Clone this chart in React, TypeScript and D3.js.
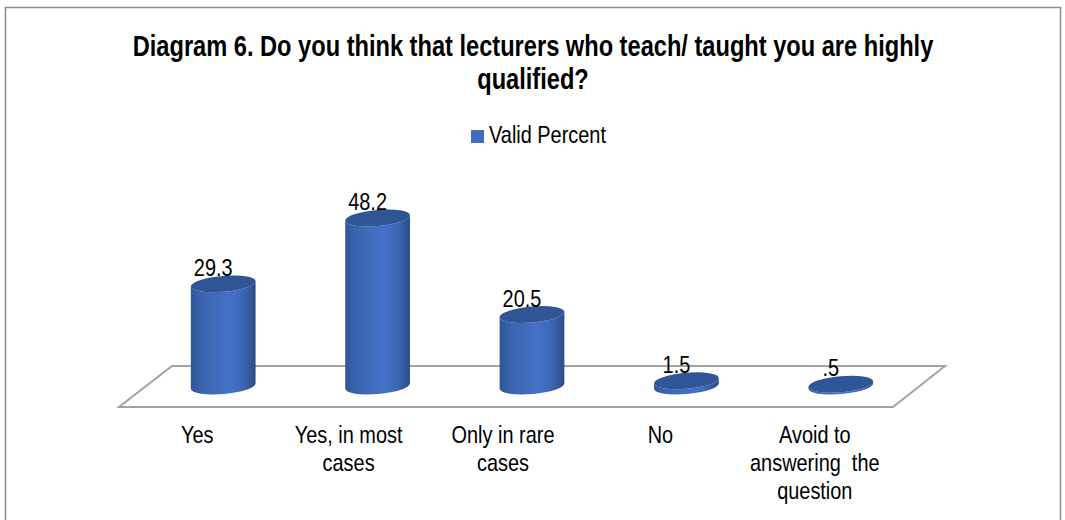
import React from "react";
import * as d3 from "d3";

const categories = ["Yes", "Yes, in most cases", "Only in rare cases", "No", "Avoid to answering  the question"];
const values = [29.3, 48.2, 20.5, 1.5, 0.5];
const valueLabels = ["29.3", "48.2", "20.5", "1.5", ".5"];
const categoryLines = [["Yes"], ["Yes, in most", "cases"], ["Only in rare", "cases"], ["No"], ["Avoid to", "answering  the", "question"]];
const titleLines = ["Diagram 6. Do you think that lecturers who teach/ taught you are highly", "qualified?"];
const seriesName = "Valid Percent";

const W = 1065, H = 520;
const FONT = "'Liberation Sans', Arial, sans-serif";
const NARROW = 0.83;
const TITLE_NARROW = 0.815;
const x = d3.scaleBand<string>().domain(categories).range([146, 918]).paddingInner(0).paddingOuter(0);
const y = d3.scaleLinear().domain([0, 48.2]).range([386, 218]);
const RX = 32.5, RY = 8, TILT = 5;
const rad = (TILT * Math.PI) / 180;
const dx = RX * Math.cos(rad), dy = RX * Math.sin(rad);

const floor = d3.line()([[119, 407], [893, 407], [945, 366], [172, 366]]) + "Z";

function sidePath(cx: number, top: number, base: number) {
  return `M${cx - dx},${top + dy} L${cx - dx},${base + dy} A${RX},${RY} ${-TILT} 0 0 ${cx + dx},${base - dy} L${cx + dx},${top - dy} A${RX},${RY} ${-TILT} 0 1 ${cx - dx},${top + dy} Z`;
}

function Narrow(p: { x: number; y: number; size: number; bold?: boolean; anchor?: string; sx?: number; children: string }) {
  return (
    <text
      transform={`translate(${p.x},${p.y}) scale(${p.sx ?? NARROW},1)`}
      textAnchor={p.anchor ?? "middle"}
      fontSize={p.size}
      fontWeight={p.bold ? 700 : 400}
      fill="#000"
      style={{ whiteSpace: "pre" }}
    >
      {p.children}
    </text>
  );
}

export default function App() {
  return (
    <svg width={W} height={H} style={{ position: "absolute", left: 0, top: 0, background: "#fff" }} fontFamily={FONT}>
      <defs>
        <linearGradient id="cyl" x1="0" x2="1" y1="0" y2="0">
          <stop offset="0" stopColor="#2f5596" />
          <stop offset="0.18" stopColor="#3a65ae" />
          <stop offset="0.6" stopColor="#4472c8" />
          <stop offset="0.82" stopColor="#3b65b0" />
          <stop offset="1" stopColor="#2a4c88" />
        </linearGradient>
      </defs>
      <rect x={5.5} y={7.5} width={1055} height={530} fill="#fff" stroke="#8c8c8c" strokeWidth={1.5} />
      {titleLines.map((t, i) => (
        <Narrow key={i} x={533} y={56 + i * 33} size={29} bold sx={TITLE_NARROW}>{t}</Narrow>
      ))}
      <rect x={471} y={130} width={13} height={13} fill="#3f6cbd" />
      <Narrow x={489} y={143} size={24} anchor="start">{seriesName}</Narrow>
      <path d={floor} fill="#fff" stroke="#a3a3a3" strokeWidth={2} />
      {categories.map((c, i) => {
        const cx = (x(c) as number) + x.bandwidth() / 2;
        const top = y(values[i]);
        const base = y(0);
        return (
          <g key={c}>
            <path d={sidePath(cx, top, base)} fill="url(#cyl)" />
            <ellipse cx={cx} cy={top} rx={RX} ry={RY} transform={`rotate(${-TILT} ${cx} ${top})`} fill="#2f5597" />
            <Narrow x={cx - 10} y={top - 8} size={24}>{valueLabels[i]}</Narrow>
          </g>
        );
      })}
      {categories.map((c, i) => {
        const cx = (x(c) as number) + x.bandwidth() / 2 - (i === 1 || i === 2 ? 29 : 26);
        return categoryLines[i].map((l, j) => (
          <Narrow key={l} x={cx} y={443 + j * 28} size={24}>{l}</Narrow>
        ));
      })}
    </svg>
  );
}
